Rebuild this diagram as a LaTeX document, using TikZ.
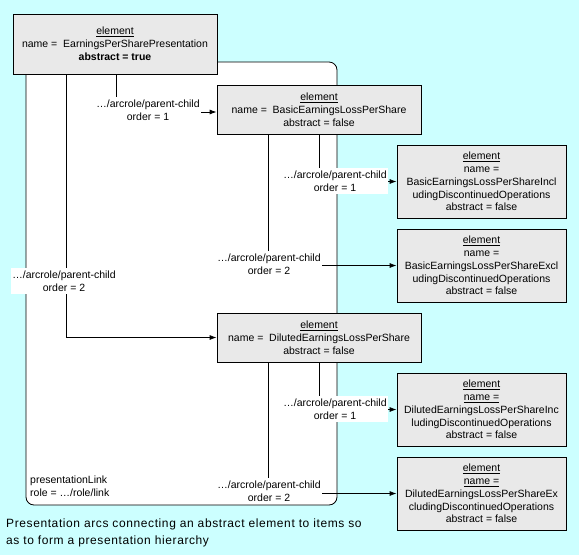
\documentclass[tikz,border=0pt]{standalone}
\usepackage{fontspec}
\setmainfont{Liberation Sans}
\newfontfamily\capfont[LetterSpace=5]{Liberation Sans}
\usetikzlibrary{arrows.meta,shadows,calc}
\definecolor{bgcyan}{HTML}{CCFFFF}
\definecolor{boxgray}{HTML}{E9E9E9}
\begin{document}
\begin{tikzpicture}[x=1pt,y=-1pt,
  elem/.style={draw=black,line width=0.8pt,fill=boxgray,align=center,inner sep=0pt,
    font=\fontsize{10.5}{12.8}\selectfont,
    drop shadow={shadow xshift=1.2pt,shadow yshift=-1.2pt,fill=black,opacity=1}},
  wide/.style={minimum width=204pt,minimum height=49pt},
  narrow/.style={minimum width=169pt,minimum height=73pt},
  arclabel/.style={fill=white,align=center,inner xsep=1pt,inner ysep=2.5pt,
    font=\fontsize{10.5}{12.8}\selectfont},
  conn/.style={line width=0.8pt,-{Latex[length=7pt,width=5pt]}},
  linkbox/.style={draw=black,fill=white,line width=0.8pt,rounded corners=8pt,
    minimum width=311pt,minimum height=443pt,inner sep=0pt},
  plain/.style={inner sep=0pt,align=left,font=\fontsize{10.5}{12.8}\selectfont}
  ]
\useasboundingbox (0,0) rectangle (579,555);
\fill[bgcyan] (0,0) rectangle (579,555);

\node[linkbox] (link) at (181.5,283.5) {};

\node[elem,minimum width=204pt,minimum height=60pt] (top) at (115,44)
  {\underline{element}\\name = \ EarningsPerSharePresentation\\\textbf{abstract = true}};
\node[elem,wide] (basic) at (319,109.5)
  {\underline{element}\\name = \ BasicEarningsLossPerShare\\abstract = false};
\node[elem,narrow] (b1) at (481.5,181.5)
  {\underline{element}\\name =\\BasicEarningsLossPerShareIncl\\udingDiscontinuedOperations\\abstract = false};
\node[elem,narrow] (b2) at (481.5,265.5)
  {\underline{element}\\name =\\BasicEarningsLossPerShareExcl\\udingDiscontinuedOperations\\abstract = false};
\node[elem,wide] (dil) at (319,337.5)
  {\underline{element}\\name = \ DilutedEarningsLossPerShare\\abstract = false};
\node[elem,narrow] (d1) at (481.5,409.5)
  {\underline{element}\\\underline{name =}\\DilutedEarningsLossPerShareInc\\ludingDiscontinuedOperations\\abstract = false};
\node[elem,narrow] (d2) at (481.5,493.5)
  {\underline{element}\\\underline{name =}\\DilutedEarningsLossPerShareEx\\cludingDiscontinuedOperations\\abstract = false};

\coordinate (x116) at (116,0);
\coordinate (x66) at (66,0);
\coordinate (x268) at (268,0);

\draw[conn] (x116 |- top.south) |- ($(basic.west)+(0,2.5)$);
\draw[conn] (x66 |- top.south) |- (dil.west);
\draw[conn] (basic.south) |- (b1.west);
\draw[conn] (x268 |- basic.south) |- (b2.west);
\draw[conn] (dil.south) |- (d1.west);
\draw[conn] (x268 |- dil.south) |- (d2.west);

\node[arclabel] (l1) at (148,110) {…/arcrole/parent-child\\order = 1};
\node[arclabel] (l2) at (64,281) {…/arcrole/parent-child\\order = 2};
\node[arclabel] (l3) at (335,181) {…/arcrole/parent-child\\order = 1};
\node[arclabel] (l4) at (269,264) {…/arcrole/parent-child\\order = 2};
\node[arclabel] (l5) at (335,409) {…/arcrole/parent-child\\order = 1};
\node[arclabel] (l6) at (269,491) {…/arcrole/parent-child\\order = 2};

\node[plain,anchor=west] (plink) at (30,486) {presentationLink\\role = …/role/link};

\node[inner sep=0pt,align=left,anchor=west,font=\capfont\fontsize{12}{17}\selectfont] (cap) at (6,532.5)
  {Presentation arcs connecting an abstract element to items so\\as to form a presentation hierarchy};
\end{tikzpicture}
\end{document}
